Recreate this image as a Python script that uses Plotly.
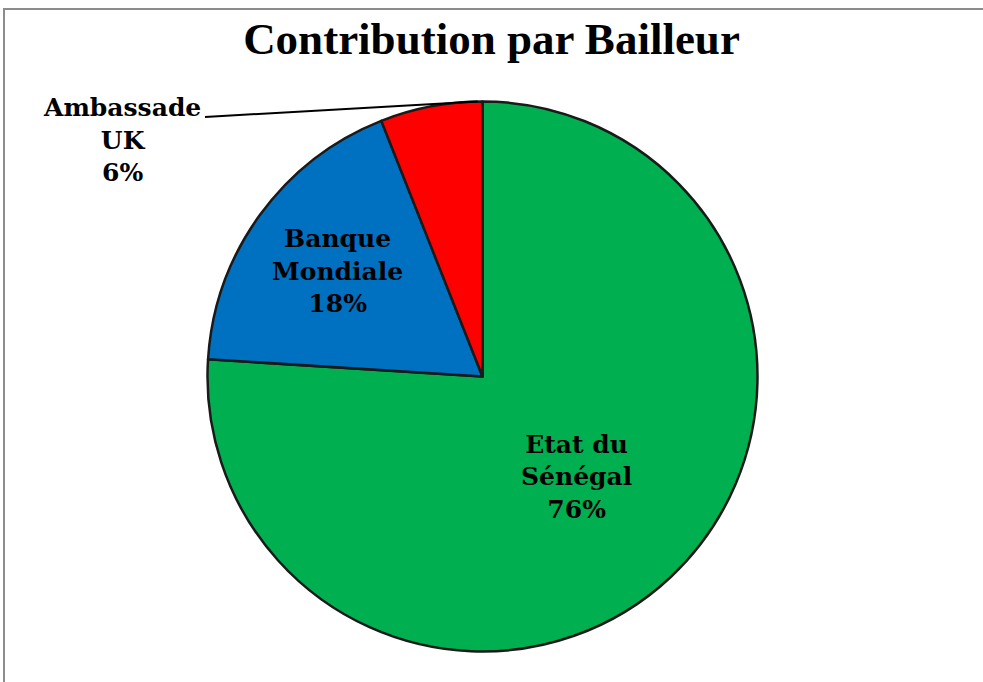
import math
import plotly.graph_objects as go

# Data
labels = ["Etat du Sénégal", "Banque Mondiale", "Ambassade UK"]
display_labels = ["Etat du<br>Sénégal", "Banque<br>Mondiale", "Ambassade<br>UK"]
values = [76, 18, 6]
colors = ["#00B050", "#0070C0", "#FF0000"]
title_text = "Contribution par Bailleur"

W, H = 983, 682
cx, cy, R = 482.5, 376.5, 275.0  # pie centre/radius in pixels

dom_x = [(cx - R) / W, (cx + R) / W]
dom_y = [1 - (cy + R) / H, 1 - (cy - R) / H]

texttemplates = [
    "%{customdata}<br>%{percent:.0%}",
    "%{customdata}<br>%{percent:.0%}",
    "",
]

label_font = dict(family="DejaVu Serif", size=25, color="black", weight="bold")

fig = go.Figure(
    go.Pie(
        labels=labels,
        values=values,
        customdata=display_labels,
        sort=False,
        direction="clockwise",
        rotation=0,
        marker=dict(colors=colors, line=dict(color="#1a1a1a", width=2.5)),
        texttemplate=texttemplates,
        textposition="inside",
        insidetextorientation="horizontal",
        textfont=label_font,
        domain=dict(x=dom_x, y=dom_y),
        showlegend=False,
        hoverinfo="label+percent",
    )
)

# Outside label for the small slice with leader line to the top of the pie
pct_uk = values[2] / sum(values)
fig.add_annotation(
    x=122 / W, y=1 - 140 / H, xref="paper", yref="paper",
    xanchor="center", yanchor="middle",
    text=f"{display_labels[2]}<br>{round(pct_uk*100)}%",
    showarrow=False,
    font=label_font,
    align="center",
)
ang = math.radians(-1)
ex = cx + R * math.sin(ang)
ey = cy - R * math.cos(ang)
fig.add_shape(
    type="line", xref="paper", yref="paper",
    x0=205 / W, y0=1 - 117 / H, x1=ex / W, y1=1 - ey / H,
    line=dict(color="black", width=2),
)

# Chart frame (top and left edges visible)
fig.add_shape(
    type="rect", xref="paper", yref="paper",
    x0=4 / W, y0=-0.05, x1=1.05, y1=1 - 9 / H,
    line=dict(color="#8c8c8c", width=2), fillcolor="rgba(0,0,0,0)",
    layer="below",
)

fig.update_layout(
    width=W, height=H,
    margin=dict(l=0, r=0, t=0, b=0),
    paper_bgcolor="white",
    plot_bgcolor="white",
    title=dict(
        text=title_text,
        x=491.5 / W, xanchor="center",
        y=1 - 38 / H, yanchor="middle",
        font=dict(family="Liberation Serif", size=45, color="black", weight="bold"),
    ),
)

fig.write_html(
    "out.html",
    config={"displayModeBar": False},
    post_script="document.body.style.margin='0';document.body.style.overflow='hidden';",
)
